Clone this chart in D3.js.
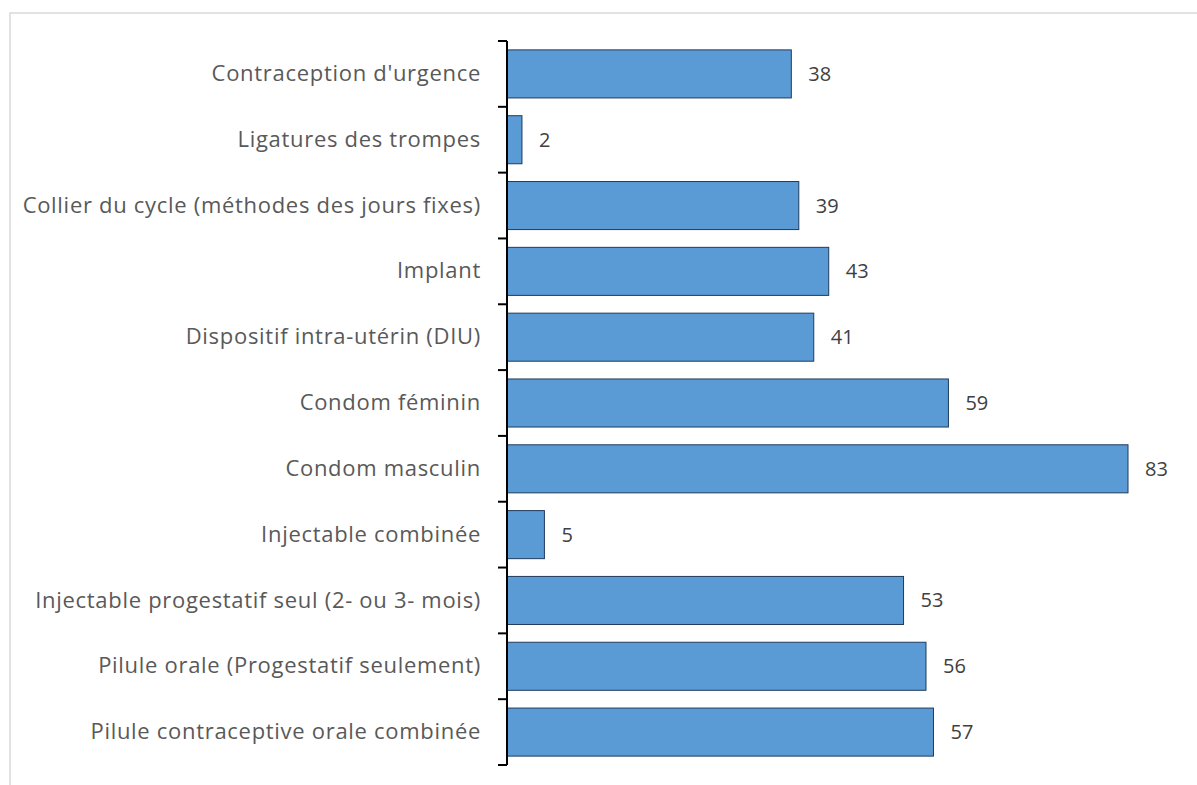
<!DOCTYPE html>
<html>
<head>
<meta charset="utf-8">
<script src="https://cdn.jsdelivr.net/npm/d3@7"></script>
<style>
  body { margin: 0; background: #fff; }
  svg { display: block; }
</style>
</head>
<body>
<svg class="chart" width="1197" height="785"></svg>
<script>
(function(){
// categories, top to bottom
var categories = [
  "Contraception d'urgence",
  "Ligatures des trompes",
  "Collier du cycle (méthodes des jours fixes)",
  "Implant",
  "Dispositif intra-utérin (DIU)",
  "Condom féminin",
  "Condom masculin",
  "Injectable combinée",
  "Injectable progestatif seul (2- ou 3- mois)",
  "Pilule orale (Progestatif seulement)",
  "Pilule contraceptive orale combinée"
];
var values = [38, 2, 39, 43, 41, 59, 83, 5, 53, 56, 57];

var width = 1197;
var height = 785;
var margins = {top: 41, left: 507, right: 69, bottom: 20};

var svg = d3.select('.chart');

// chart area border
svg.append('rect')
  .attr('x', 10).attr('y', 13)
  .attr('width', width).attr('height', height)
  .attr('fill', 'none')
  .attr('stroke', '#d9d9d9')
  .attr('stroke-width', 1.5);

var xScale = d3.scaleLinear()
  .domain([0, 83])
  .range([margins.left, 1128]);

var yScale = d3.scaleBand()
  .domain(categories)
  .range([margins.top, height - margins.bottom])
  .paddingInner(0.27)
  .paddingOuter(0.135);

var data = categories.map(function(c, i){ return {label: c, value: values[i]}; });

svg.selectAll('.bar')
  .data(data)
  .enter().append('rect')
  .attr('class', 'bar')
  .attr('x', xScale(0))
  .attr('y', function(d){ return yScale(d.label); })
  .attr('width', function(d){ return xScale(d.value) - xScale(0); })
  .attr('height', yScale.bandwidth())
  .attr('fill', '#5b9bd5')
  .attr('stroke', '#1f3b5c')
  .attr('stroke-width', 1);

// value labels
svg.selectAll('.val')
  .data(data)
  .enter().append('text')
  .attr('class', 'val')
  .attr('x', function(d){ return xScale(d.value) + 17; })
  .attr('y', function(d){ return yScale(d.label) + yScale.bandwidth()/2; })
  .attr('dy', '0.35em')
  .attr('font-family', 'Open Sans, sans-serif')
  .attr('font-size', 20)
  .attr('fill', '#404040')
  .text(function(d){ return d.value; });

// category axis
var yAxis = d3.axisLeft(yScale).tickSize(0).tickPadding(26);
var g = svg.append('g')
  .attr('transform', 'translate(' + margins.left + ',0)')
  .call(yAxis);
g.select('.domain').attr('stroke', '#000').attr('stroke-width', 2)
  .attr('d', 'M0,' + margins.top + 'V' + (height - margins.bottom));
g.selectAll('text')
  .attr('font-family', 'Open Sans, sans-serif')
  .attr('font-size', 22)
  .attr('letter-spacing', 0.7)
  .attr('fill', '#595959');

// tick marks between categories
var bounds = d3.range(categories.length + 1).map(function(i){
  return margins.top + i * (height - margins.top - margins.bottom) / categories.length;
});
g.selectAll('.tk')
  .data(bounds)
  .enter().append('line')
  .attr('class', 'tk')
  .attr('x1', -9).attr('x2', 0)
  .attr('y1', function(d){ return d; })
  .attr('y2', function(d){ return d; })
  .attr('stroke', '#000')
  .attr('stroke-width', 2);
})();
</script>
</body>
</html>
